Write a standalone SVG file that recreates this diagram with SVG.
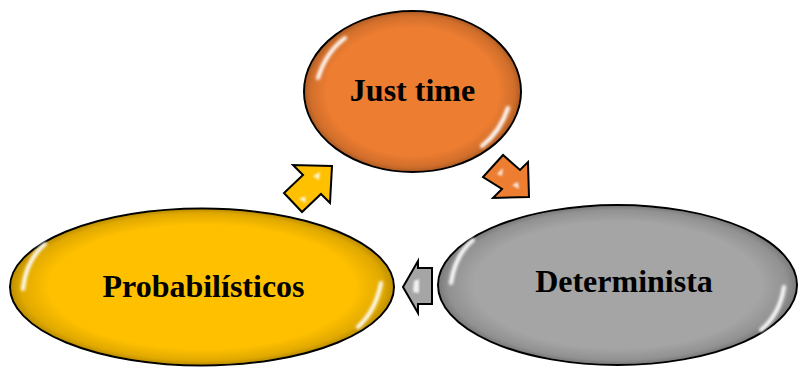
<svg xmlns="http://www.w3.org/2000/svg" width="798" height="369" viewBox="0 0 798 369">
<defs>
<radialGradient id="bevel" cx="0.5" cy="0.5" r="0.5">
<stop offset="0.8" stop-color="#000" stop-opacity="0"/>
<stop offset="0.95" stop-color="#000" stop-opacity="0.12"/>
<stop offset="1" stop-color="#000" stop-opacity="0.25"/>
</radialGradient>
<filter id="blur" x="-50%" y="-50%" width="200%" height="200%"><feGaussianBlur stdDeviation="1.6"/></filter>
<filter id="blur2" x="-50%" y="-50%" width="200%" height="200%"><feGaussianBlur stdDeviation="0.8"/></filter>
</defs>
<style>
.node ellipse.body{stroke:#000;stroke-width:2}
.shade{fill:url(#bevel)}
.hl{fill:none;stroke:#fff;stroke-width:4;stroke-linecap:round;filter:url(#blur)}
.lbl{font-family:"Liberation Serif","Times New Roman",serif;font-weight:bold;font-size:32px;fill:#000;text-anchor:middle}
.arr{stroke:#000;stroke-width:2;stroke-linejoin:miter}
.ahl{fill:#fff;opacity:0.85;filter:url(#blur2)}
</style>
<rect width="798" height="369" fill="#fff"/>
<g id="connectors">
<g id="arrow-up">
<polygon class="arr" fill="#FFC000" points="332,166 293,165 303,175 284,193 302,212 321,194 330,203"/>
<polygon class="ahl" points="313,176 320,172 319,180"/>
<polygon class="ahl" points="299,199 305,196 306,203"/>
</g>
<g id="arrow-down">
<polygon class="arr" fill="#ED7D31" points="529,197 493,198 502,189 483,177 503,155 520,170 528,162"/>
<polygon class="ahl" points="497,174 503,168 502,176"/>
<polygon class="ahl" points="512,185 518,182 519,189"/>
</g>
<g id="arrow-left">
<polygon class="arr" fill="#A5A5A5" points="403,287 418,261 418,268 432,268 432,304 418,304 418,313"/>
<polygon class="ahl" points="414,281 419,279 419,293 413,292"/>
</g>
</g>
<g id="node-just-time" class="node">
<ellipse class="body" cx="412.5" cy="91.5" rx="108.5" ry="80.5" fill="#ED7D31"/>
<ellipse class="shade" cx="412.5" cy="91.5" rx="107.5" ry="79.5"/>
<path class="hl" d="M318,78 Q326,52 345,38"/>
<path class="hl" d="M508,108 Q500,132 482,146"/>
<text class="lbl" x="412.5" y="101">Just time</text>
</g>
<g id="node-probabilisticos" class="node">
<ellipse class="body" cx="202" cy="287" rx="192" ry="78.5" fill="#FFC000"/>
<ellipse class="shade" cx="202" cy="287" rx="191" ry="77.5"/>
<path class="hl" d="M23,289 Q26,260 45,244"/>
<path class="hl" d="M381,283 Q376,310 358,327"/>
<text class="lbl" x="203.5" y="297">Probabilísticos</text>
</g>
<g id="node-determinista" class="node">
<ellipse class="body" cx="617.5" cy="285" rx="179.5" ry="80" fill="#A5A5A5"/>
<ellipse class="shade" cx="617.5" cy="285" rx="178.5" ry="79"/>
<path class="hl" d="M451,283 Q455,255 473,240"/>
<path class="hl" d="M784,287 Q780,314 761,330"/>
<text class="lbl" x="624" y="292">Determinista</text>
</g>
</svg>
